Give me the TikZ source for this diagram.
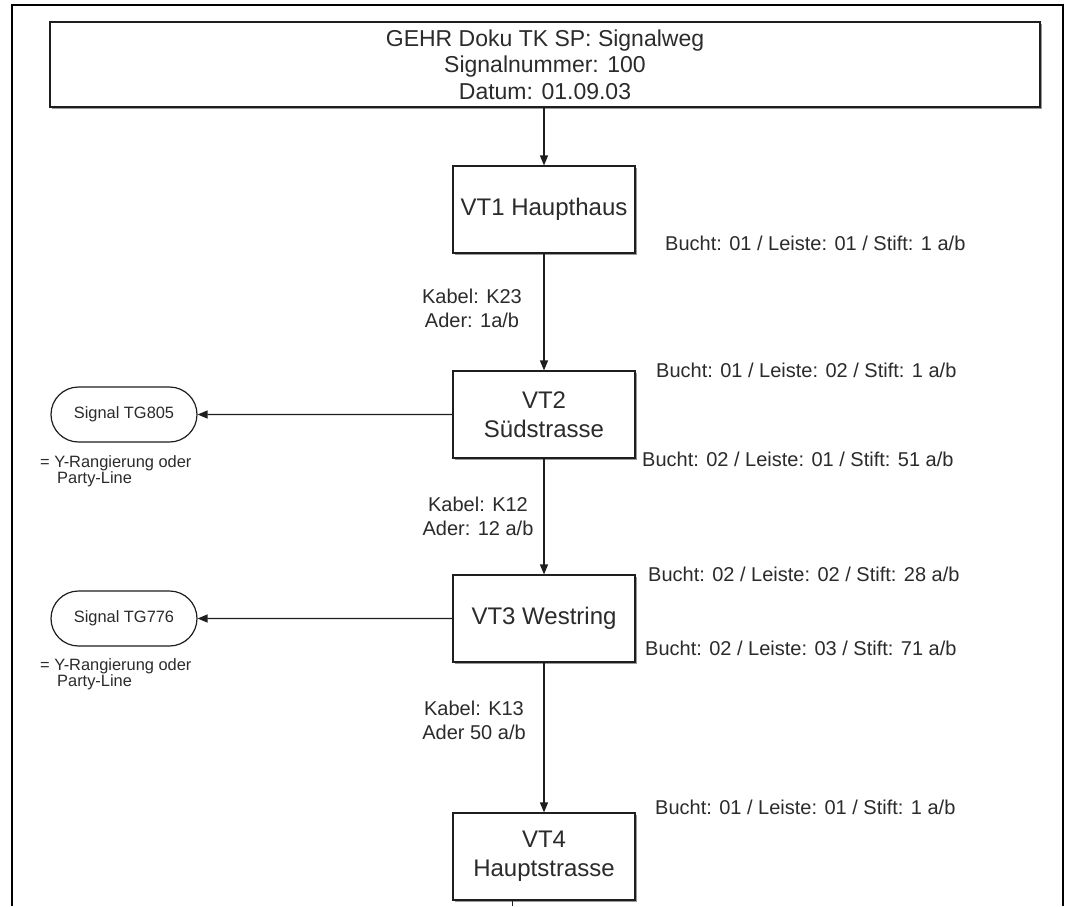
\documentclass[tikz,border=0pt]{standalone}
\usepackage{fontspec}
\setmainfont{Liberation Sans}
\usetikzlibrary{arrows.meta,shapes.misc,shadows}
\definecolor{txt}{HTML}{2B2B2B}
\definecolor{ln}{HTML}{1E1E1E}
\begin{document}
\begin{tikzpicture}[x=1pt,y=-1pt,
  shad/.style={drop shadow={shadow xshift=1.6pt,shadow yshift=-1.6pt,fill=black!40,opacity=1}},
  box/.style={rectangle,draw=ln,line width=1.2pt,fill=white,minimum width=182pt,minimum height=87pt,
    inner sep=0pt,align=center,text=txt,font=\fontsize{24}{29}\selectfont,shad},
  titlebox/.style={rectangle,draw=ln,line width=1.2pt,fill=white,minimum width=990pt,minimum height=85pt,
    inner sep=0pt,align=center,text=txt,font=\fontsize{23}{24}\selectfont,shad},
  sig/.style={rounded rectangle,draw=ln,line width=1.2pt,fill=white,minimum width=146pt,minimum height=55pt,
    inner sep=0pt,text=txt,font=\fontsize{16.4}{17}\selectfont},
  lbl/.style={anchor=west,inner sep=0pt,text=txt,font=\fontsize{20}{24}\selectfont},
  kab/.style={inner sep=0pt,align=center,text=txt,font=\fontsize{20}{24}\selectfont},
  note/.style={anchor=north west,inner sep=0pt,align=left,text=txt,font=\fontsize{16.4}{16.2}\selectfont},
  arr/.style={draw=ln,line width=1.3pt,-{Triangle[length=10pt,width=8pt]}}
]
\useasboundingbox (0,0) rectangle (1075,906);
\fill[white] (0,0) rectangle (1075,906);
% outer frame
\draw[line width=2.4pt,black] (12,906) -- (12,5) -- (1063,5) -- (1063,906);

% nodes
\node[titlebox] (title) at (545,64.5) {GEHR Doku TK SP: Signalweg\\[2.5pt]Signalnummer: 100\\[2.5pt]Datum: 01.09.03};
\node[box] (vt1) at (544,209.5) {VT1 Haupthaus};
\node[box] (vt2) at (544,414.5) {VT2\\Südstrasse};
\node[box] (vt3) at (544,618.5) {VT3 Westring};
\node[box] (vt4) at (544,856.5) {VT4\\Hauptstrasse};

\node[sig] (s1) at (124,414.5) {Signal TG805};
\node[sig] (s2) at (124,618.5) {Signal TG776};

\node[note] (n1) at (40,455) {= Y-Rangierung oder\\\hspace*{17pt}Party-Line};
\node[note] (n2) at (40,658) {= Y-Rangierung oder\\\hspace*{17pt}Party-Line};

% labels
\node[lbl] (l1) at (665,243) {Bucht: 01 / Leiste: 01 / Stift: 1 a/b};
\node[lbl] (l2) at (656,370) {Bucht: 01 / Leiste: 02 / Stift: 1 a/b};
\node[lbl] (l3) at (642,459) {Bucht: 02 / Leiste: 01 / Stift: 51 a/b};
\node[lbl] (l4) at (648,574) {Bucht: 02 / Leiste: 02 / Stift: 28 a/b};
\node[lbl] (l5) at (645,648) {Bucht: 02 / Leiste: 03 / Stift: 71 a/b};
\node[lbl] (l6) at (655,807) {Bucht: 01 / Leiste: 01 / Stift: 1 a/b};

\node[kab] (k1) at (472,308) {Kabel: K23\\Ader: 1a/b};
\node[kab] (k2) at (478,516) {Kabel: K12\\Ader: 12 a/b};
\node[kab] (k3) at (474,720) {Kabel: K13\\Ader 50 a/b};

% connectors
\draw[arr] (title.south -| vt1.north) -- (vt1.north);
\draw[arr] (vt1) -- (vt2);
\draw[arr] (vt2) -- (vt3);
\draw[arr] (vt3) -- (vt4);
\draw[arr] (vt2) -- (s1);
\draw[arr] (vt3) -- (s2);

% small tick at bottom
\coordinate (t1) at (512,901);
\coordinate (t2) at (512,906);
\draw[ln,line width=1pt] (t1) -- (t2);
\end{tikzpicture}
\end{document}
